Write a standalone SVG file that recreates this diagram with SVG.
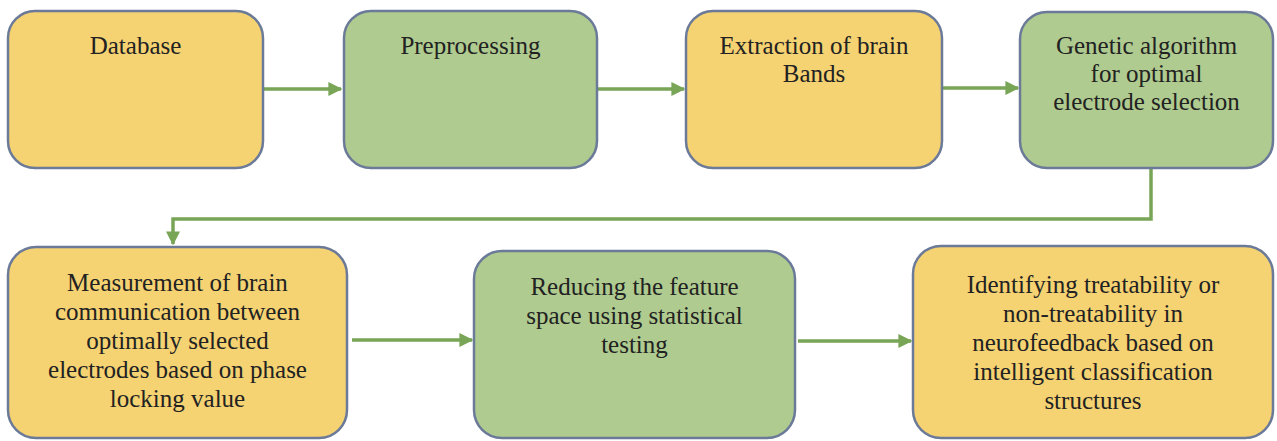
<svg xmlns="http://www.w3.org/2000/svg" width="1277" height="441" viewBox="0 0 1277 441">
<defs>
<marker id="ah" viewBox="0 0 10 10" refX="9" refY="5" markerWidth="4" markerHeight="4" markerUnits="strokeWidth" orient="auto">
<path d="M0,0 L10,5 L0,10 z" fill="#78a556"/>
</marker>
</defs>
<rect width="1277" height="441" fill="#ffffff"/>
<g id="connectors" fill="none" stroke="#78a556" stroke-width="3.5">
<path d="M263,89 H341" marker-end="url(#ah)"/>
<path d="M597,89 H684" marker-end="url(#ah)"/>
<path d="M942,88 H1018" marker-end="url(#ah)"/>
<path d="M1151,168 V219 H173 V244" marker-end="url(#ah)"/>
<path d="M352,340 H472" marker-end="url(#ah)"/>
<path d="M798,341 H911" marker-end="url(#ah)"/>
</g>
<g id="n1">
<rect x="8" y="11" width="255" height="157" rx="27" fill="#f5d272" stroke="#6b7a98" stroke-width="2.5"/>
<text x="135.5" y="54" font-family="Liberation Serif" font-size="25" fill="#222" text-anchor="middle">Database</text>
</g>
<g id="n2">
<rect x="344" y="11" width="253" height="157" rx="27" fill="#afcb8f" stroke="#6b7a98" stroke-width="2.5"/>
<text x="470.5" y="54" font-family="Liberation Serif" font-size="25" fill="#222" text-anchor="middle">Preprocessing</text>
</g>
<g id="n3">
<rect x="686" y="11" width="256" height="157" rx="27" fill="#f5d272" stroke="#6b7a98" stroke-width="2.5"/>
<text x="814" y="54" font-family="Liberation Serif" font-size="25" fill="#222" text-anchor="middle">Extraction of brain</text>
<text x="814" y="82" font-family="Liberation Serif" font-size="25" fill="#222" text-anchor="middle">Bands</text>
</g>
<g id="n4">
<rect x="1020" y="12" width="253" height="156" rx="27" fill="#afcb8f" stroke="#6b7a98" stroke-width="2.5"/>
<text x="1146.5" y="54" font-family="Liberation Serif" font-size="25" fill="#222" text-anchor="middle">Genetic algorithm</text>
<text x="1146.5" y="82" font-family="Liberation Serif" font-size="25" fill="#222" text-anchor="middle">for optimal</text>
<text x="1146.5" y="110" font-family="Liberation Serif" font-size="25" fill="#222" text-anchor="middle">electrode selection</text>
</g>
<g id="n5">
<rect x="8" y="247" width="339" height="191" rx="28" fill="#f5d272" stroke="#6b7a98" stroke-width="2.5"/>
<text x="177.5" y="291" font-family="Liberation Serif" font-size="25" fill="#222" text-anchor="middle">Measurement of brain</text>
<text x="177.5" y="320" font-family="Liberation Serif" font-size="25" fill="#222" text-anchor="middle">communication between</text>
<text x="177.5" y="349" font-family="Liberation Serif" font-size="25" fill="#222" text-anchor="middle">optimally selected</text>
<text x="177.5" y="378" font-family="Liberation Serif" font-size="25" fill="#222" text-anchor="middle">electrodes based on phase</text>
<text x="177.5" y="407" font-family="Liberation Serif" font-size="25" fill="#222" text-anchor="middle">locking value</text>
</g>
<g id="n6">
<rect x="474" y="251" width="321" height="187" rx="28" fill="#afcb8f" stroke="#6b7a98" stroke-width="2.5"/>
<text x="634.5" y="295" font-family="Liberation Serif" font-size="25" fill="#222" text-anchor="middle">Reducing the feature</text>
<text x="634.5" y="324" font-family="Liberation Serif" font-size="25" fill="#222" text-anchor="middle">space using statistical</text>
<text x="634.5" y="353" font-family="Liberation Serif" font-size="25" fill="#222" text-anchor="middle">testing</text>
</g>
<g id="n7">
<rect x="913" y="246" width="360" height="192" rx="28" fill="#f5d272" stroke="#6b7a98" stroke-width="2.5"/>
<text x="1093" y="293" font-family="Liberation Serif" font-size="25" fill="#222" text-anchor="middle">Identifying treatability or</text>
<text x="1093" y="322" font-family="Liberation Serif" font-size="25" fill="#222" text-anchor="middle">non-treatability in</text>
<text x="1093" y="351" font-family="Liberation Serif" font-size="25" fill="#222" text-anchor="middle">neurofeedback based on</text>
<text x="1093" y="380" font-family="Liberation Serif" font-size="25" fill="#222" text-anchor="middle">intelligent classification</text>
<text x="1093" y="409" font-family="Liberation Serif" font-size="25" fill="#222" text-anchor="middle">structures</text>
</g>
</svg>
